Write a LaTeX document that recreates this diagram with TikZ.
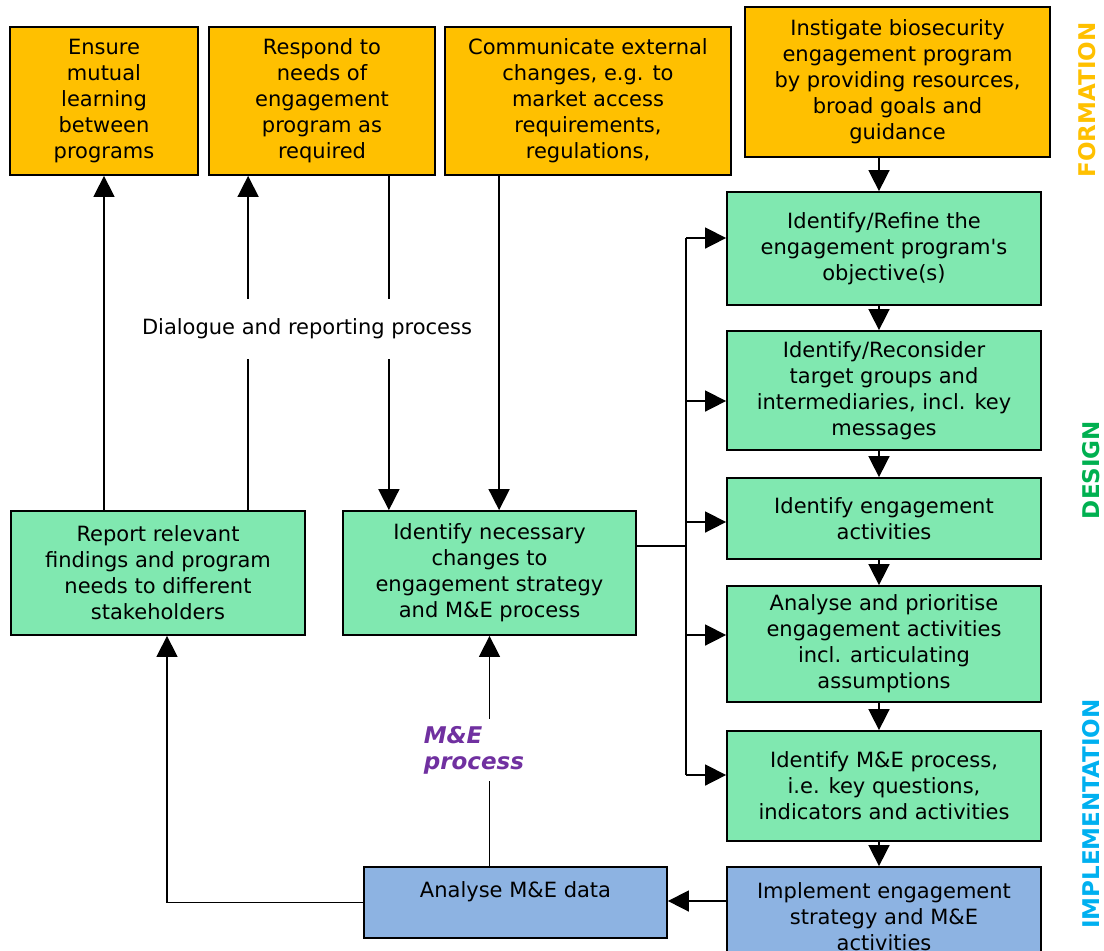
\documentclass[tikz,border=0pt]{standalone}
\usepackage{fontspec}
\setmainfont{DejaVu Sans}
\usetikzlibrary{arrows.meta}

\definecolor{formorange}{HTML}{FFC000}
\definecolor{designgreen}{HTML}{80E8B0}
\definecolor{implblue}{HTML}{8DB3E2}
\definecolor{labgreen}{HTML}{00B050}
\definecolor{labblue}{HTML}{00B0F0}
\definecolor{mepurple}{HTML}{7030A0}

\newcommand{\boxfont}{\fontsize{10.5}{13}\selectfont}

\tikzset{
  stage/.style={draw=black, line width=0.9pt, align=center, font=\boxfont, inner sep=2pt},
  formbox/.style={stage, fill=formorange},
  designbox/.style={stage, fill=designgreen},
  implbox/.style={stage, fill=implblue},
  arr/.style={-{Triangle[length=10.5pt,width=10.5pt]}},
  phase/.style={rotate=90, font=\fontsize{11.5}{13}\selectfont\bfseries},
}

\begin{document}
\begin{tikzpicture}[x=0.5pt, y=-0.5pt, line width=0.8pt]
\useasboundingbox (0,0) rectangle (1104,950);

% formation
\node[formbox, minimum width=94pt, minimum height=74pt] (b1) at (104,101)
  {Ensure\\mutual\\learning\\between\\programs};
\node[formbox, minimum width=113pt, minimum height=74pt] (b2) at (322,101)
  {Respond to\\needs of\\engagement\\program as\\required};
\node[formbox, minimum width=143pt, minimum height=74pt] (b3) at (588,101)
  {Communicate external\\changes, e.g. to\\market access\\requirements,\\regulations,};
\node[formbox, minimum width=152.5pt, minimum height=75pt] (b4) at (897.5,82)
  {Instigate biosecurity\\engagement program\\by providing resources,\\broad goals and\\guidance};

% design
\node[designbox, minimum width=157pt, minimum height=56.5pt] (g1) at (884,248.5)
  {Identify/Refine the\\engagement program\textquotesingle s\\objective(s)};
\node[designbox, minimum width=157pt, minimum height=59.5pt] (g2) at (884,390.5)
  {Identify/Reconsider\\target groups and\\intermediaries, incl. key\\messages};
\node[designbox, minimum width=157pt, minimum height=40.5pt] (g3) at (884,518.5)
  {Identify engagement\\activities};
\node[designbox, minimum width=157pt, minimum height=58pt] (g4) at (884,644)
  {Analyse and prioritise\\engagement activities\\incl. articulating\\assumptions};
\node[designbox, minimum width=157pt, minimum height=55pt] (g5) at (884,786)
  {Identify M\&E process,\\i.e. key questions,\\indicators and activities};
\node[designbox, minimum width=147pt, minimum height=62pt] (rep) at (158,573)
  {Report relevant\\findings and program\\needs to different\\stakeholders};
\node[designbox, minimum width=146.5pt, minimum height=62pt] (chg) at (489.5,573)
  {Identify necessary\\changes to\\engagement strategy\\and M\&E process};

% implementation
\node[implbox, minimum width=151.5pt, minimum height=35.5pt] (ana) at (515.5,902.5)
  {Analyse M\&E data\\\mbox{}};
\node[implbox, minimum width=157pt, minimum height=50pt] (imp) at (884,917)
  {Implement engagement\\strategy and M\&E\\activities};

% phase labels
\node[phase, text=formorange] (lform) at (1087,100) {FORMATION};
\node[phase, text=labgreen] (ldes) at (1091,470) {DESIGN};
\node[phase, text=labblue] (limp) at (1091,814) {IMPLEMENTATION};

% dialogue loop
\coordinate (b2l) at ([xshift=20pt]b2.south west);
\coordinate (b2r) at ([xshift=-23.5pt]b2.south east);
\coordinate (b3l) at ([xshift=27.5pt]b3.south west);
\draw[arr] (rep.north -| b1.south) -- (b1.south);
\draw[arr] (rep.north -| b2l) -- (b2l);
\draw[arr] (b2r) -- (b2r |- chg.north);
\draw[arr] (b3l) -- (b3l |- chg.north);
\node[fill=white, font=\boxfont, inner sep=0pt, minimum height=30pt] (dlg) at (307,329)
  {Dialogue and reporting process};

% design chain
\coordinate (g1top) at ([xshift=-2.5pt]g1.north);
\draw[arr] (b4.south -| g1top) -- (g1top);
\foreach \a/\b in {g1/g2, g2/g3, g3/g4, g4/g5, g5/imp}
  \draw[arr] ([xshift=-2.5pt]\a.south) -- ([xshift=-2.5pt]\b.north);

% bus from changes box
\coordinate (chgout) at ([yshift=13.5pt]chg.east);
\coordinate (busx) at ([xshift=-20pt]g1.west);
\coordinate (bus) at (busx |- chgout);
\draw (chgout) -- (bus);
\foreach \g/\dy in {g1/5.25, g2/-5.25, g3/-1.75, g4/4.5, g5/5.5} {
  \coordinate (\g-in) at ([yshift=\dy pt]\g.west);
  \draw[arr] (\g-in -| bus) -- (\g-in);
}
\draw (g1-in -| bus) -- (g5-in -| bus);

% M&E loop
\coordinate (impout) at ([yshift=8pt]imp.west);
\draw[arr] (impout) -- (impout -| ana.east);
\draw[arr] (ana.north -| chg.south) -- (chg.south);
\node[fill=white, anchor=west, align=left, inner xsep=0pt, minimum height=31pt,
  text=mepurple, font=\fontsize{11.5}{13}\selectfont\bfseries\itshape] (me) at (423,750)
  {M\&E\\process};
\coordinate (repin) at ([xshift=4.5pt]rep.south);
\draw[arr] (ana.west) -| (repin);
\end{tikzpicture}
\end{document}
